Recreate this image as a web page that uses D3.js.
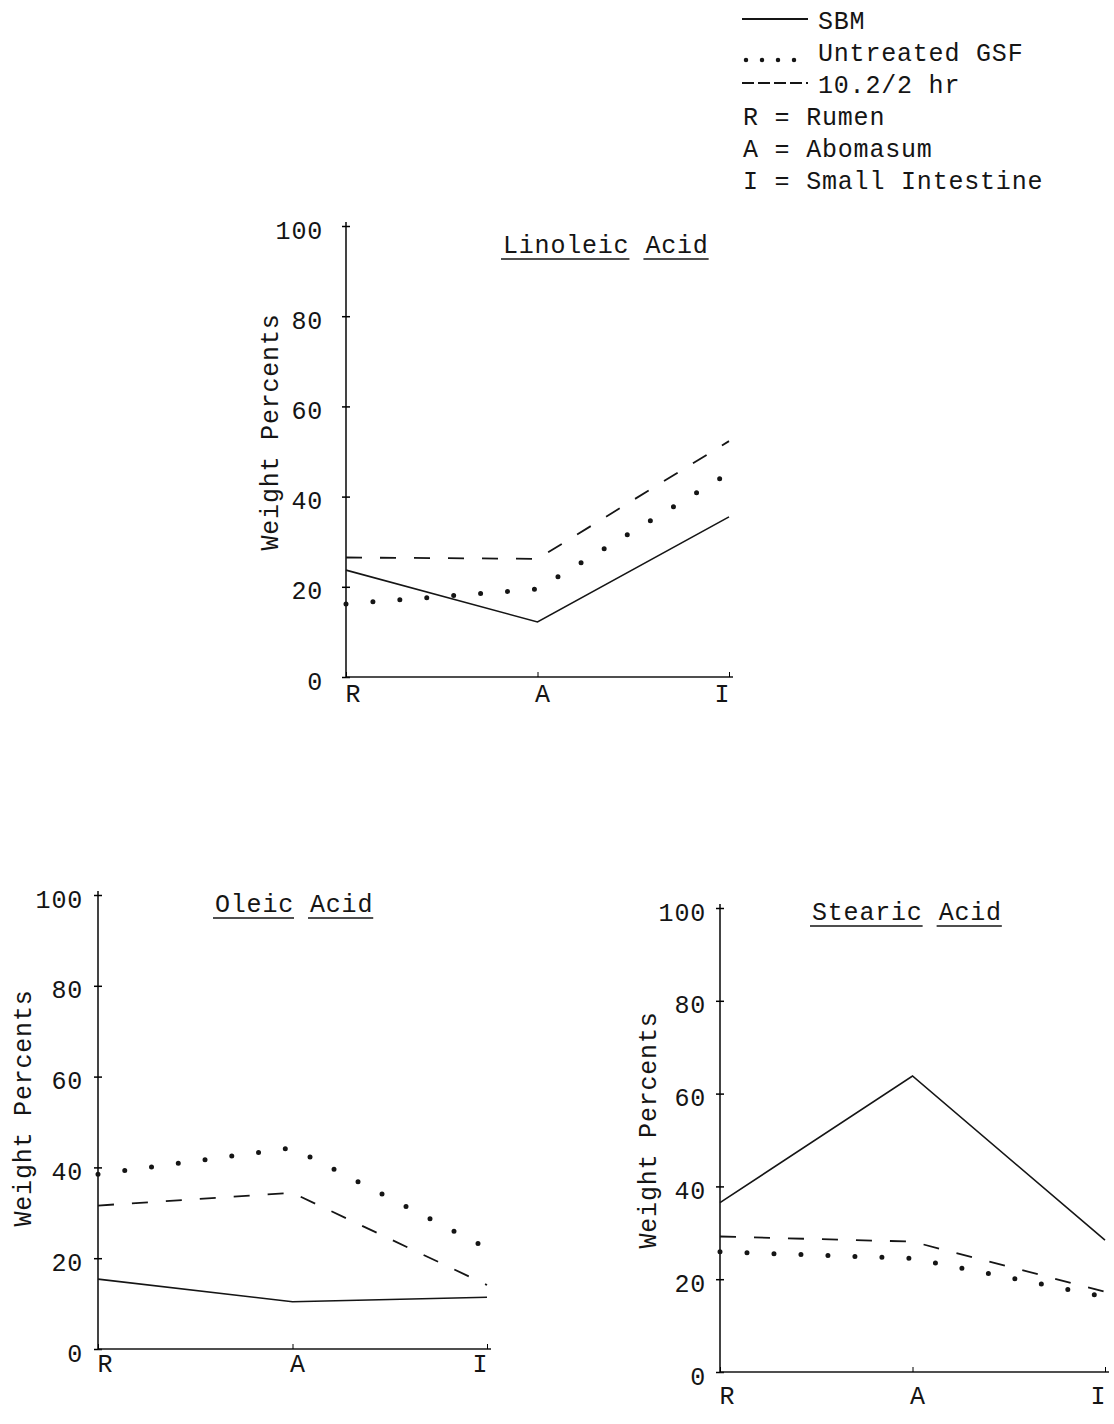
<!DOCTYPE html>
<html>
<head>
<meta charset="utf-8">
<script src="https://cdn.jsdelivr.net/npm/d3@7"></script>
<style>
  body { margin: 0; background: #fff; }
  svg text { font-family: "Liberation Mono", "DejaVu Sans Mono", monospace; font-size: 25px; letter-spacing: 0.8px; fill: #151515; }
</style>
</head>
<body>
<div id="chart"></div>
<script>
// Data
const sites = ['R', 'A', 'I'];
const yTicks = [0, 20, 40, 60, 80, 100];
const seriesNames = ['SBM', 'Untreated GSF', '10.2/2 hr'];
const siteKeys = ['R = Rumen', 'A = Abomasum', 'I = Small Intestine'];

const linoleicSBM = [23.7, 12.2, 35.5];
const linoleicGSF = [16.2, 19.5, 45.2];
const linoleicTreated = [26.5, 26.2, 52.3];

const oleicSBM = [15.4, 10.4, 11.4];
const oleicGSF = [38.5, 44.3, 22.2];
const oleicTreated = [31.6, 34.4, 14.1];

const stearicSBM = [36.5, 63.8, 28.4];
const stearicGSF = [25.9, 24.5, 16.2];
const stearicTreated = [29.2, 28.1, 17.3];

// line styles per series
const styles = [
    { dash: null, width: 1.6, cap: 'butt' },
    { dash: '0 27', width: 5, cap: 'round' },
    { dash: '16 18', width: 1.8, cap: 'butt' }
];

const svg = d3.select('#chart')
    .append('svg')
    .attr('width', 1114)
    .attr('height', 1424);

// Panel layout
const panels = [
    { title: ['Linoleic', 'Acid'], series: [linoleicSBM, linoleicGSF, linoleicTreated],
      x0: 346, x1: 729, y0: 677, y100: 226, titleX: 503, titleY: 253, labelX: 278, labelY: 432,
      tickGap: 19, xPad: 7 },
    { title: ['Oleic', 'Acid'], series: [oleicSBM, oleicGSF, oleicTreated],
      x0: 98, x1: 487, y0: 1349, y100: 895, titleX: 215, titleY: 912, labelX: 31, labelY: 1108,
      tickGap: 11, xPad: 5 },
    { title: ['Stearic', 'Acid'], series: [stearicSBM, stearicGSF, stearicTreated],
      x0: 720, x1: 1105, y0: 1372, y100: 908, titleX: 812, titleY: 920, labelX: 656, labelY: 1130,
      tickGap: 10, xPad: 14 }
];

const labelShift = { R: 7, A: 5, I: -7 };

panels.forEach(p => {
    const x = d3.scalePoint().domain(sites).range([p.x0, p.x1]);
    const y = d3.scaleLinear().domain([0, 100]).range([p.y0, p.y100]);
    const g = svg.append('g');

    // y axis
    const yAxis = d3.axisLeft(y)
        .tickValues(yTicks)
        .tickSizeInner(4)
        .tickSizeOuter(0)
        .tickPadding(p.tickGap);
    const ya = g.append('g')
        .attr('transform', `translate(${p.x0},0)`)
        .call(yAxis);
    ya.select('.domain').attr('stroke', '#151515').attr('stroke-width', 1.6)
        .attr('d', `M0,${y(0)}V${y(100) - 4}`);
    ya.selectAll('.tick line').attr('x1', -4).attr('x2', 4).attr('stroke-width', 1.5);
    ya.selectAll('.tick text').attr('dy', '0.48em');
    ya.attr('font-size', null).attr('font-family', null);

    // x axis
    const xAxis = d3.axisBottom(x)
        .tickSizeInner(-5)
        .tickSizeOuter(0)
        .tickPadding(p.xPad);
    const xa = g.append('g')
        .attr('transform', `translate(0,${p.y0})`)
        .call(xAxis);
    xa.select('.domain').attr('stroke', '#151515').attr('stroke-width', 1.6)
        .attr('d', `M${p.x0},0H${p.x1 + 4}`);
    xa.selectAll('.tick line').attr('stroke-width', 1);
    xa.selectAll('.tick text').attr('dx', d => labelShift[d]);
    xa.attr('font-size', null).attr('font-family', null);

    // lines
    const line = d3.line()
        .x((d, i) => x(sites[i]))
        .y(d => y(d));
    p.series.forEach((vals, i) => {
        g.append('path')
            .datum(vals)
            .attr('d', line)
            .attr('fill', 'none')
            .attr('stroke', '#151515')
            .attr('stroke-width', styles[i].width)
            .attr('stroke-linecap', styles[i].cap)
            .attr('stroke-dasharray', styles[i].dash);
    });

    // title, each word underlined separately
    let tx = p.titleX;
    p.title.forEach(word => {
        const t = g.append('text').attr('x', tx).attr('y', p.titleY).text(word);
        const w = t.node().getComputedTextLength();
        g.append('line')
            .attr('x1', tx - 2).attr('x2', tx + w)
            .attr('y1', p.titleY + 6).attr('y2', p.titleY + 6)
            .attr('stroke', '#151515').attr('stroke-width', 1.6);
        tx += w + 16;
    });

    // y label
    g.append('text')
        .attr('transform', `translate(${p.labelX},${p.labelY}) rotate(-90)`)
        .attr('text-anchor', 'middle')
        .text('Weight Percents');
});

// Legend
const legend = svg.append('g');
const legendY = [29, 61, 93];
const sampleY = [19, 60, 83];
seriesNames.forEach((name, i) => {
    legend.append('line')
        .attr('x1', i === 1 ? 746 : 742).attr('x2', i === 1 ? 800 : 808)
        .attr('y1', sampleY[i]).attr('y2', sampleY[i])
        .attr('stroke', '#151515')
        .attr('stroke-width', i === 1 ? 4.5 : 1.8)
        .attr('stroke-linecap', styles[i].cap)
        .attr('stroke-dasharray', i === 1 ? '0 16' : i === 2 ? '12 4' : null);
    legend.append('text')
        .attr('x', 818).attr('y', legendY[i])
        .text(name);
});
siteKeys.forEach((k, i) => {
    legend.append('text')
        .attr('x', 743).attr('y', 125 + i * 32)
        .attr('xml:space', 'preserve')
        .text(k);
});
</script>
</body>
</html>
